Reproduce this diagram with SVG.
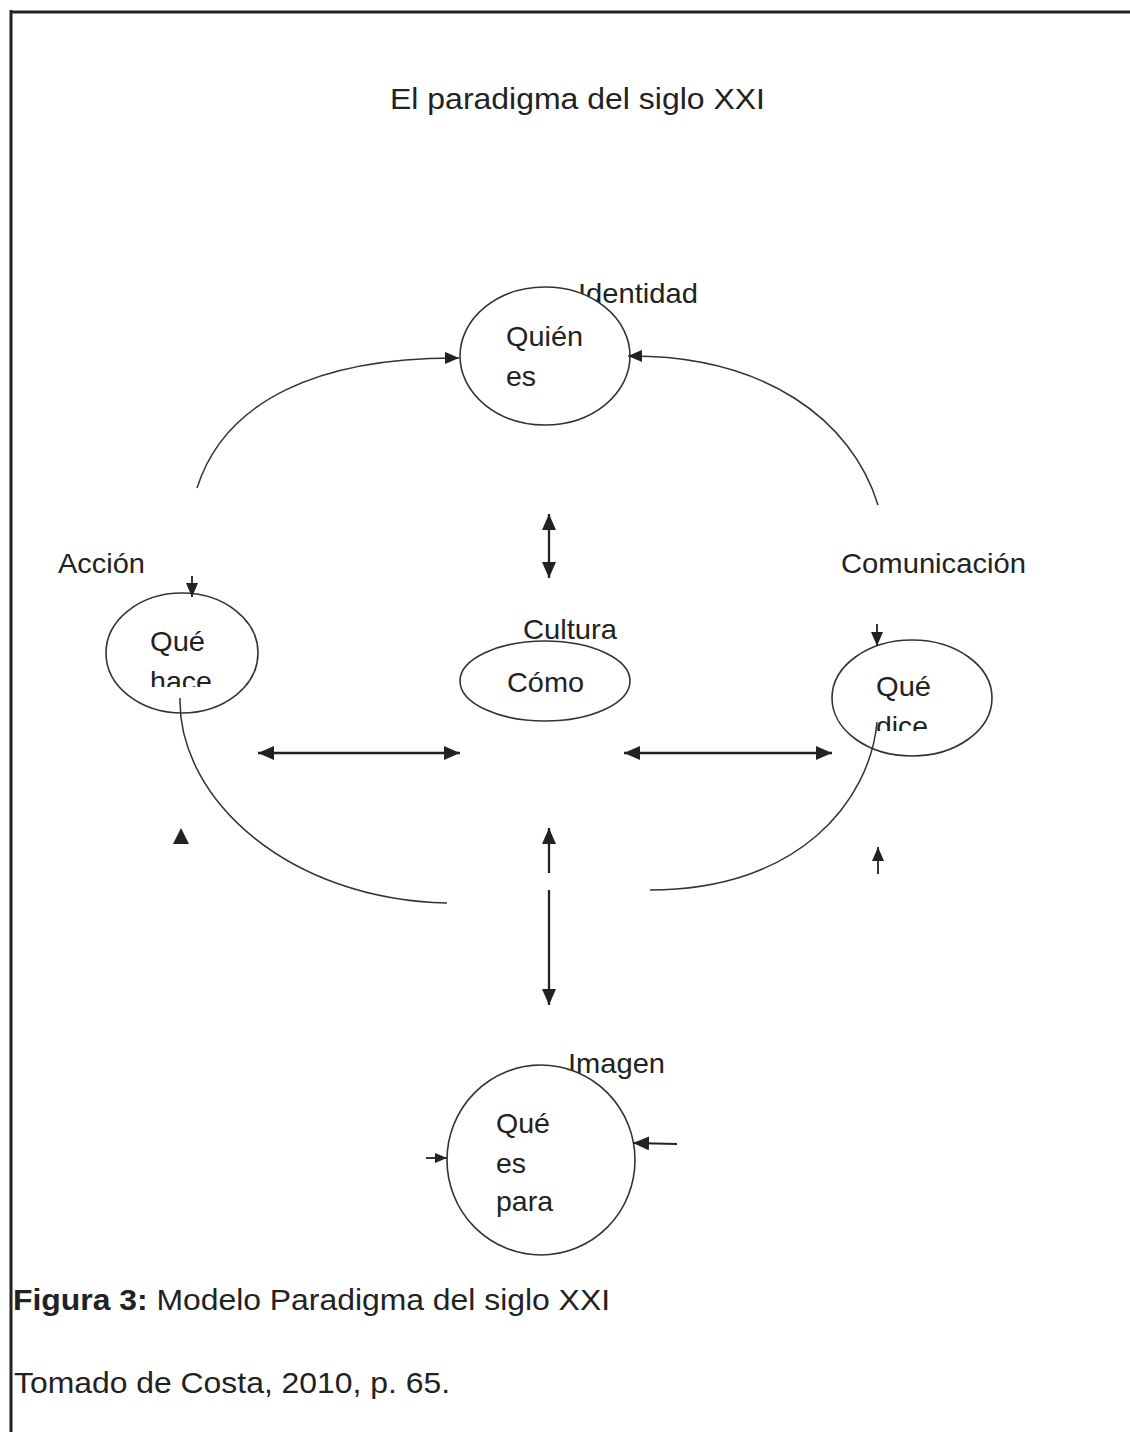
<svg xmlns="http://www.w3.org/2000/svg" width="1130" height="1432" viewBox="0 0 1130 1432">
<style>
  text { font-family: "Liberation Sans", Arial, sans-serif; fill: #222; font-size: 28px; }
  .node { fill: #fff; stroke: #333; stroke-width: 1.6; }
  .curve { fill: none; stroke: #333; stroke-width: 1.5; }
  .arr { fill: none; stroke: #222; stroke-width: 2.3; }
  .arrs { fill: none; stroke: #222; stroke-width: 1.8; }
  .title { font-size: 30px; }
  .cap { font-size: 30px; }
  .bold { font-weight: bold; }
</style>
<defs>
  <marker id="ah" viewBox="0 0 16 14" refX="16" refY="7" markerWidth="16" markerHeight="14" markerUnits="userSpaceOnUse" orient="auto-start-reverse">
    <path d="M0,0 L16,7 L0,14 z" fill="#222"/>
  </marker>
  <marker id="ahm" viewBox="0 0 14 12" refX="14" refY="6" markerWidth="14" markerHeight="12" markerUnits="userSpaceOnUse" orient="auto-start-reverse">
    <path d="M0,0 L14,6 L0,12 z" fill="#222"/>
  </marker>
  <marker id="ahs" viewBox="0 0 12 10" refX="12" refY="5" markerWidth="12" markerHeight="10" markerUnits="userSpaceOnUse" orient="auto-start-reverse">
    <path d="M0,0 L12,5 L0,10 z" fill="#222"/>
  </marker>
  <clipPath id="clipHace"><rect x="100" y="600" width="170" height="87"/></clipPath>
  <clipPath id="clipDice"><rect x="830" y="650" width="170" height="81"/></clipPath>
</defs>
<rect x="0" y="0" width="1130" height="1432" fill="#fff"/>
<g id="frame">
  <line x1="10" y1="12" x2="1130" y2="12" stroke="#222" stroke-width="3"/>
  <line x1="11" y1="10" x2="11" y2="1432" stroke="#222" stroke-width="3"/>
</g>
<g id="title">
  <text class="title" x="390" y="109" textLength="375" lengthAdjust="spacingAndGlyphs">El paradigma del siglo XXI</text>
</g>
<g id="node-identidad">
  <text x="578" y="303" textLength="120" lengthAdjust="spacingAndGlyphs">Identidad</text>
  <ellipse class="node" cx="545" cy="356" rx="85" ry="69"/>
  <text x="506" y="346" textLength="77" lengthAdjust="spacingAndGlyphs">Quién</text>
  <text x="506" y="386" textLength="30" lengthAdjust="spacingAndGlyphs">es</text>
</g>
<g id="node-accion">
  <text x="58" y="573" textLength="87" lengthAdjust="spacingAndGlyphs">Acción</text>
  <ellipse class="node" cx="182" cy="653" rx="76" ry="60"/>
  <text x="150" y="651" textLength="55" lengthAdjust="spacingAndGlyphs">Qué</text>
  <text x="150" y="691" textLength="62" lengthAdjust="spacingAndGlyphs" clip-path="url(#clipHace)">hace</text>
</g>
<g id="node-cultura">
  <text x="523" y="639" textLength="94" lengthAdjust="spacingAndGlyphs">Cultura</text>
  <ellipse class="node" cx="545" cy="681" rx="85" ry="40"/>
  <text x="507" y="692" textLength="77" lengthAdjust="spacingAndGlyphs">Cómo</text>
</g>
<g id="node-comunicacion">
  <text x="841" y="573" textLength="185" lengthAdjust="spacingAndGlyphs">Comunicación</text>
  <ellipse class="node" cx="912" cy="698" rx="80" ry="58"/>
  <text x="876" y="696" textLength="55" lengthAdjust="spacingAndGlyphs">Qué</text>
  <text x="876" y="736" textLength="52" lengthAdjust="spacingAndGlyphs" clip-path="url(#clipDice)">dice</text>
</g>
<g id="node-imagen">
  <text x="568" y="1073" textLength="97" lengthAdjust="spacingAndGlyphs">Imagen</text>
  <ellipse class="node" cx="541" cy="1160" rx="94" ry="95"/>
  <text x="496" y="1133" textLength="54" lengthAdjust="spacingAndGlyphs">Qué</text>
  <text x="496" y="1173" textLength="30" lengthAdjust="spacingAndGlyphs">es</text>
  <text x="496" y="1211" textLength="57" lengthAdjust="spacingAndGlyphs">para</text>
</g>
<g id="connectors">
  <path class="curve" d="M197,488 C225,400 320,357 459,358" marker-end="url(#ahm)"/>
  <path class="curve" d="M878,505 C852,420 765,355 628,356" marker-end="url(#ahm)"/>
  <path class="curve" d="M180,698 C178,800 290,900 447,903"/>
  <path class="curve" d="M877,722 C870,800 800,890 650,890"/>
  <line class="arr" x1="549" y1="514" x2="549" y2="578" marker-start="url(#ah)" marker-end="url(#ah)"/>
  <line class="arr" x1="258" y1="753" x2="460" y2="753" marker-start="url(#ah)" marker-end="url(#ah)"/>
  <line class="arr" x1="624" y1="753" x2="832" y2="753" marker-start="url(#ah)" marker-end="url(#ah)"/>
  <line class="arr" x1="549" y1="873" x2="549" y2="828" marker-end="url(#ah)"/>
  <line class="arr" x1="549" y1="890" x2="549" y2="1005" marker-end="url(#ah)"/>
  <line class="arrs" x1="192" y1="576" x2="192" y2="597" marker-end="url(#ahm)"/>
  <line class="arrs" x1="877" y1="624" x2="877" y2="646" marker-end="url(#ahm)"/>
  <polygon points="181,828 173,844 189,844" fill="#222"/>
  <line class="arrs" x1="878" y1="874" x2="878" y2="847" marker-end="url(#ahm)"/>
  <line class="arrs" x1="426" y1="1158" x2="447" y2="1158" marker-end="url(#ahs)"/>
  <line class="arrs" x1="677" y1="1144" x2="633" y2="1143" marker-end="url(#ah)"/>
</g>
<g id="caption">
  <text class="cap" x="13" y="1310" textLength="597" lengthAdjust="spacingAndGlyphs"><tspan class="bold">Figura 3:</tspan> Modelo Paradigma del siglo XXI</text>
  <text class="cap" x="14" y="1393" textLength="436" lengthAdjust="spacingAndGlyphs">Tomado de Costa, 2010, p. 65.</text>
</g>
</svg>
